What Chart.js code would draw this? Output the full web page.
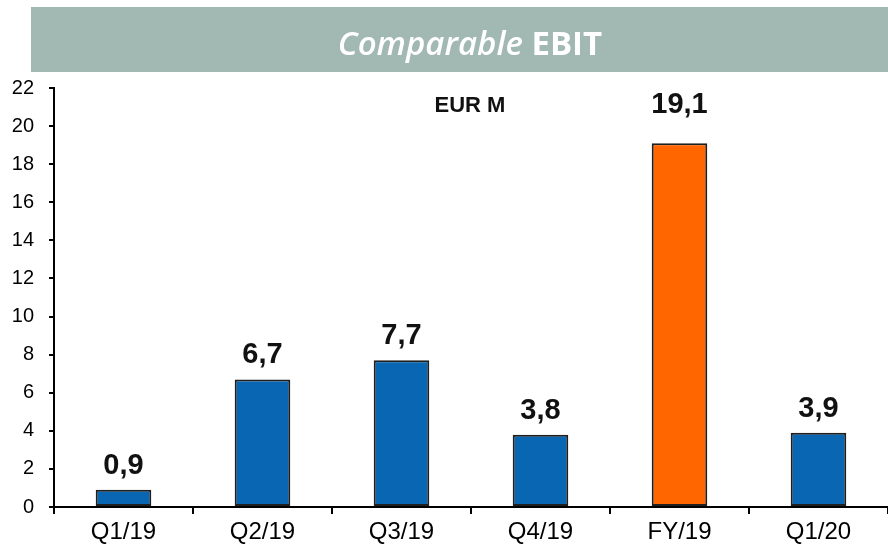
<!DOCTYPE html>
<html><head><meta charset="utf-8">
<script src="https://cdn.jsdelivr.net/npm/chart.js@4/dist/chart.umd.min.js"></script>
<style>html,body{margin:0;padding:0;background:#fff;}#wrap{width:888px;height:545px;position:relative;}</style>
</head><body>
<div id="wrap"><canvas id="c" width="888" height="545"></canvas></div>
<script>
const categories = ["Q1/19","Q2/19","Q3/19","Q4/19","FY/19","Q1/20"];
const values = [0.9, 6.7, 7.7, 3.8, 19.1, 3.9];
const valueLabels = ["0,9","6,7","7,7","3,8","19,1","3,9"];
const barColors = ["#0866b2","#0866b2","#0866b2","#0866b2","#ff6600","#0866b2"];
const yTicks = [0,2,4,6,8,10,12,14,16,18,20,22];
// label gap above bar (style)
const labelGaps = [16,16,16,16,30,16];

const overlay = {
  id: 'overlay',
  afterDraw(chart) {
    const ctx = chart.ctx;
    ctx.save();
    // banner
    ctx.fillStyle = '#a2b8b2';
    ctx.fillRect(31, 7, 857, 65);
    ctx.fillStyle = '#ffffff';
    ctx.textBaseline = 'alphabetic';
    const f1 = 'italic 600 33px "Open Sans"';
    const f2 = 'bold 33px "Open Sans"';
    ctx.font = f1; const w1 = ctx.measureText('Comparable ').width;
    ctx.font = f2; const w2 = ctx.measureText('EBIT').width;
    let x0 = 470 - (w1 + w2) / 2;
    ctx.textAlign = 'left';
    ctx.font = f1; ctx.fillText('Comparable ', x0, 55);
    ctx.font = f2; ctx.fillText('EBIT', x0 + w1, 55);
    // EUR M
    ctx.fillStyle = '#111';
    ctx.font = 'bold 22px "Liberation Sans", Arial';
    ctx.textAlign = 'center';
    ctx.fillText('EUR M', 470, 112);
    // value labels
    const meta = chart.getDatasetMeta(0);
    ctx.font = 'bold 29px "Liberation Sans", Arial';
    meta.data.forEach((bar, i) => {
      ctx.fillText(valueLabels[i], bar.x, bar.y - labelGaps[i]);
    });
    ctx.restore();
  }
};

new Chart(document.getElementById('c'), {
  type: 'bar',
  data: {
    labels: categories,
    datasets: [{
      data: values,
      backgroundColor: barColors,
      borderColor: '#1f1f1f',
      borderWidth: 2,
      borderSkipped: false,
      barPercentage: 0.4,
      categoryPercentage: 1.0
    }]
  },
  options: {
    responsive: false,
    animation: false,
    layout: { padding: { top: 88, right: 0, left: 0, bottom: 0 } },
    plugins: { legend: { display: false }, tooltip: { enabled: false }, title: { display: false } },
    scales: {
      x: {
        offset: true,
        grid: { display: true, drawOnChartArea: false, offset: true, tickLength: 7, color: '#000', lineWidth: 2 },
        border: { display: true, color: '#000', width: 2 },
        ticks: { color: '#000', font: { family: '"Liberation Sans", Arial', size: 24 }, padding: 4, maxRotation: 0 },
        afterFit(s) { s.height = 38; }
      },
      y: {
        min: 0, max: 22,
        afterBuildTicks(s) { s.ticks = yTicks.map(v => ({ value: v })); },
        grid: { display: true, drawOnChartArea: false, tickLength: 5, color: '#000', lineWidth: 2 },
        border: { display: true, color: '#000', width: 2 },
        ticks: { color: '#000', font: { family: '"Liberation Sans", Arial', size: 20 }, padding: 15 },
        afterFit(s) { s.width = 54; }
      }
    }
  },
  plugins: [overlay]
});
</script>
</body></html>
